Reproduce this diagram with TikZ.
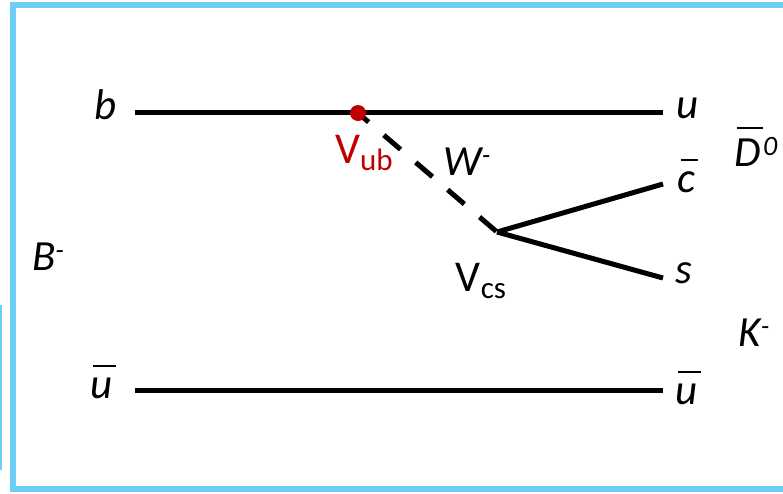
\documentclass[tikz,border=0pt]{standalone}
\usepackage{fontspec}
\setmainfont{Carlito}
\definecolor{framebl}{HTML}{6DCFF6}
\definecolor{vred}{HTML}{C00000}
\newcommand{\obar}[2][3pt]{\setbox0\hbox{#2}\leavevmode\vbox{\offinterlineskip\hbox{\kern#1\vrule height 1.8pt depth 0pt width \wd0}\kern 10.5pt\box0}}
\newcommand{\supm}[1]{\raisebox{0.55ex}{\fontsize{28}{30}\selectfont #1}}
\newcommand{\subv}[1]{\raisebox{-0.3ex}{\fontsize{31}{34}\selectfont #1}}
\begin{document}
\begin{tikzpicture}[x=1pt,y=-1pt,
  quark/.style={line width=5pt},
  wline/.style={line width=5pt,dash pattern=on 22pt off 20pt,dash phase=8pt},
  lbl/.style={inner sep=0pt,font=\fontsize{43}{50}\selectfont\itshape},
  vlbl/.style={inner sep=0pt,font=\fontsize{44}{50}\selectfont}]
\useasboundingbox (0,0) rectangle (783,493);
\draw[framebl,line width=6pt] (13,5) rectangle (786,489);
\draw[framebl,line width=1.5pt] (0.75,305) -- (0.75,470);
% coordinates
\coordinate (b1) at (135,112);
\coordinate (b2) at (663,112);
\coordinate (u1) at (135,390);
\coordinate (u2) at (663,390);
\coordinate (vub) at (358,113);
\coordinate (vcs) at (497,232);
\coordinate (cend) at (663,184);
\coordinate (send) at (663,278);
% lines
\draw[quark] (b1) -- (b2);
\draw[quark] (u1) -- (u2);
\draw[wline] (vub) -- (vcs);
\draw[quark] (vcs) -- (cend);
\draw[quark] (vcs) -- (send);
\fill[vred] (vub) circle (8);
% labels
\node[lbl] (lb) at (106,105) {b};
\node[lbl] (lu) at (688,108) {u};
\node[lbl] (lD) at (756,147) {\obar[2pt]{D}\supm{0}};
\node[lbl] (lc) at (688,176) {\obar{c}};
\node[lbl] (ls) at (684,273) {s};
\node[lbl] (lK) at (754,333) {K\supm{-}};
\node[lbl] (lub) at (103,382) {\obar{u}};
\node[lbl] (lu2) at (688,388) {\obar{u}};
\node[lbl] (lB) at (48,257) {B\supm{-}};
\node[lbl] (lW) at (467,162) {W\supm{-}};
\node[vlbl,text=vred] (lVub) at (364,153) {V\subv{ub}};
\node[vlbl] (lVcs) at (481,281) {V\subv{cs}};
\end{tikzpicture}
\end{document}
